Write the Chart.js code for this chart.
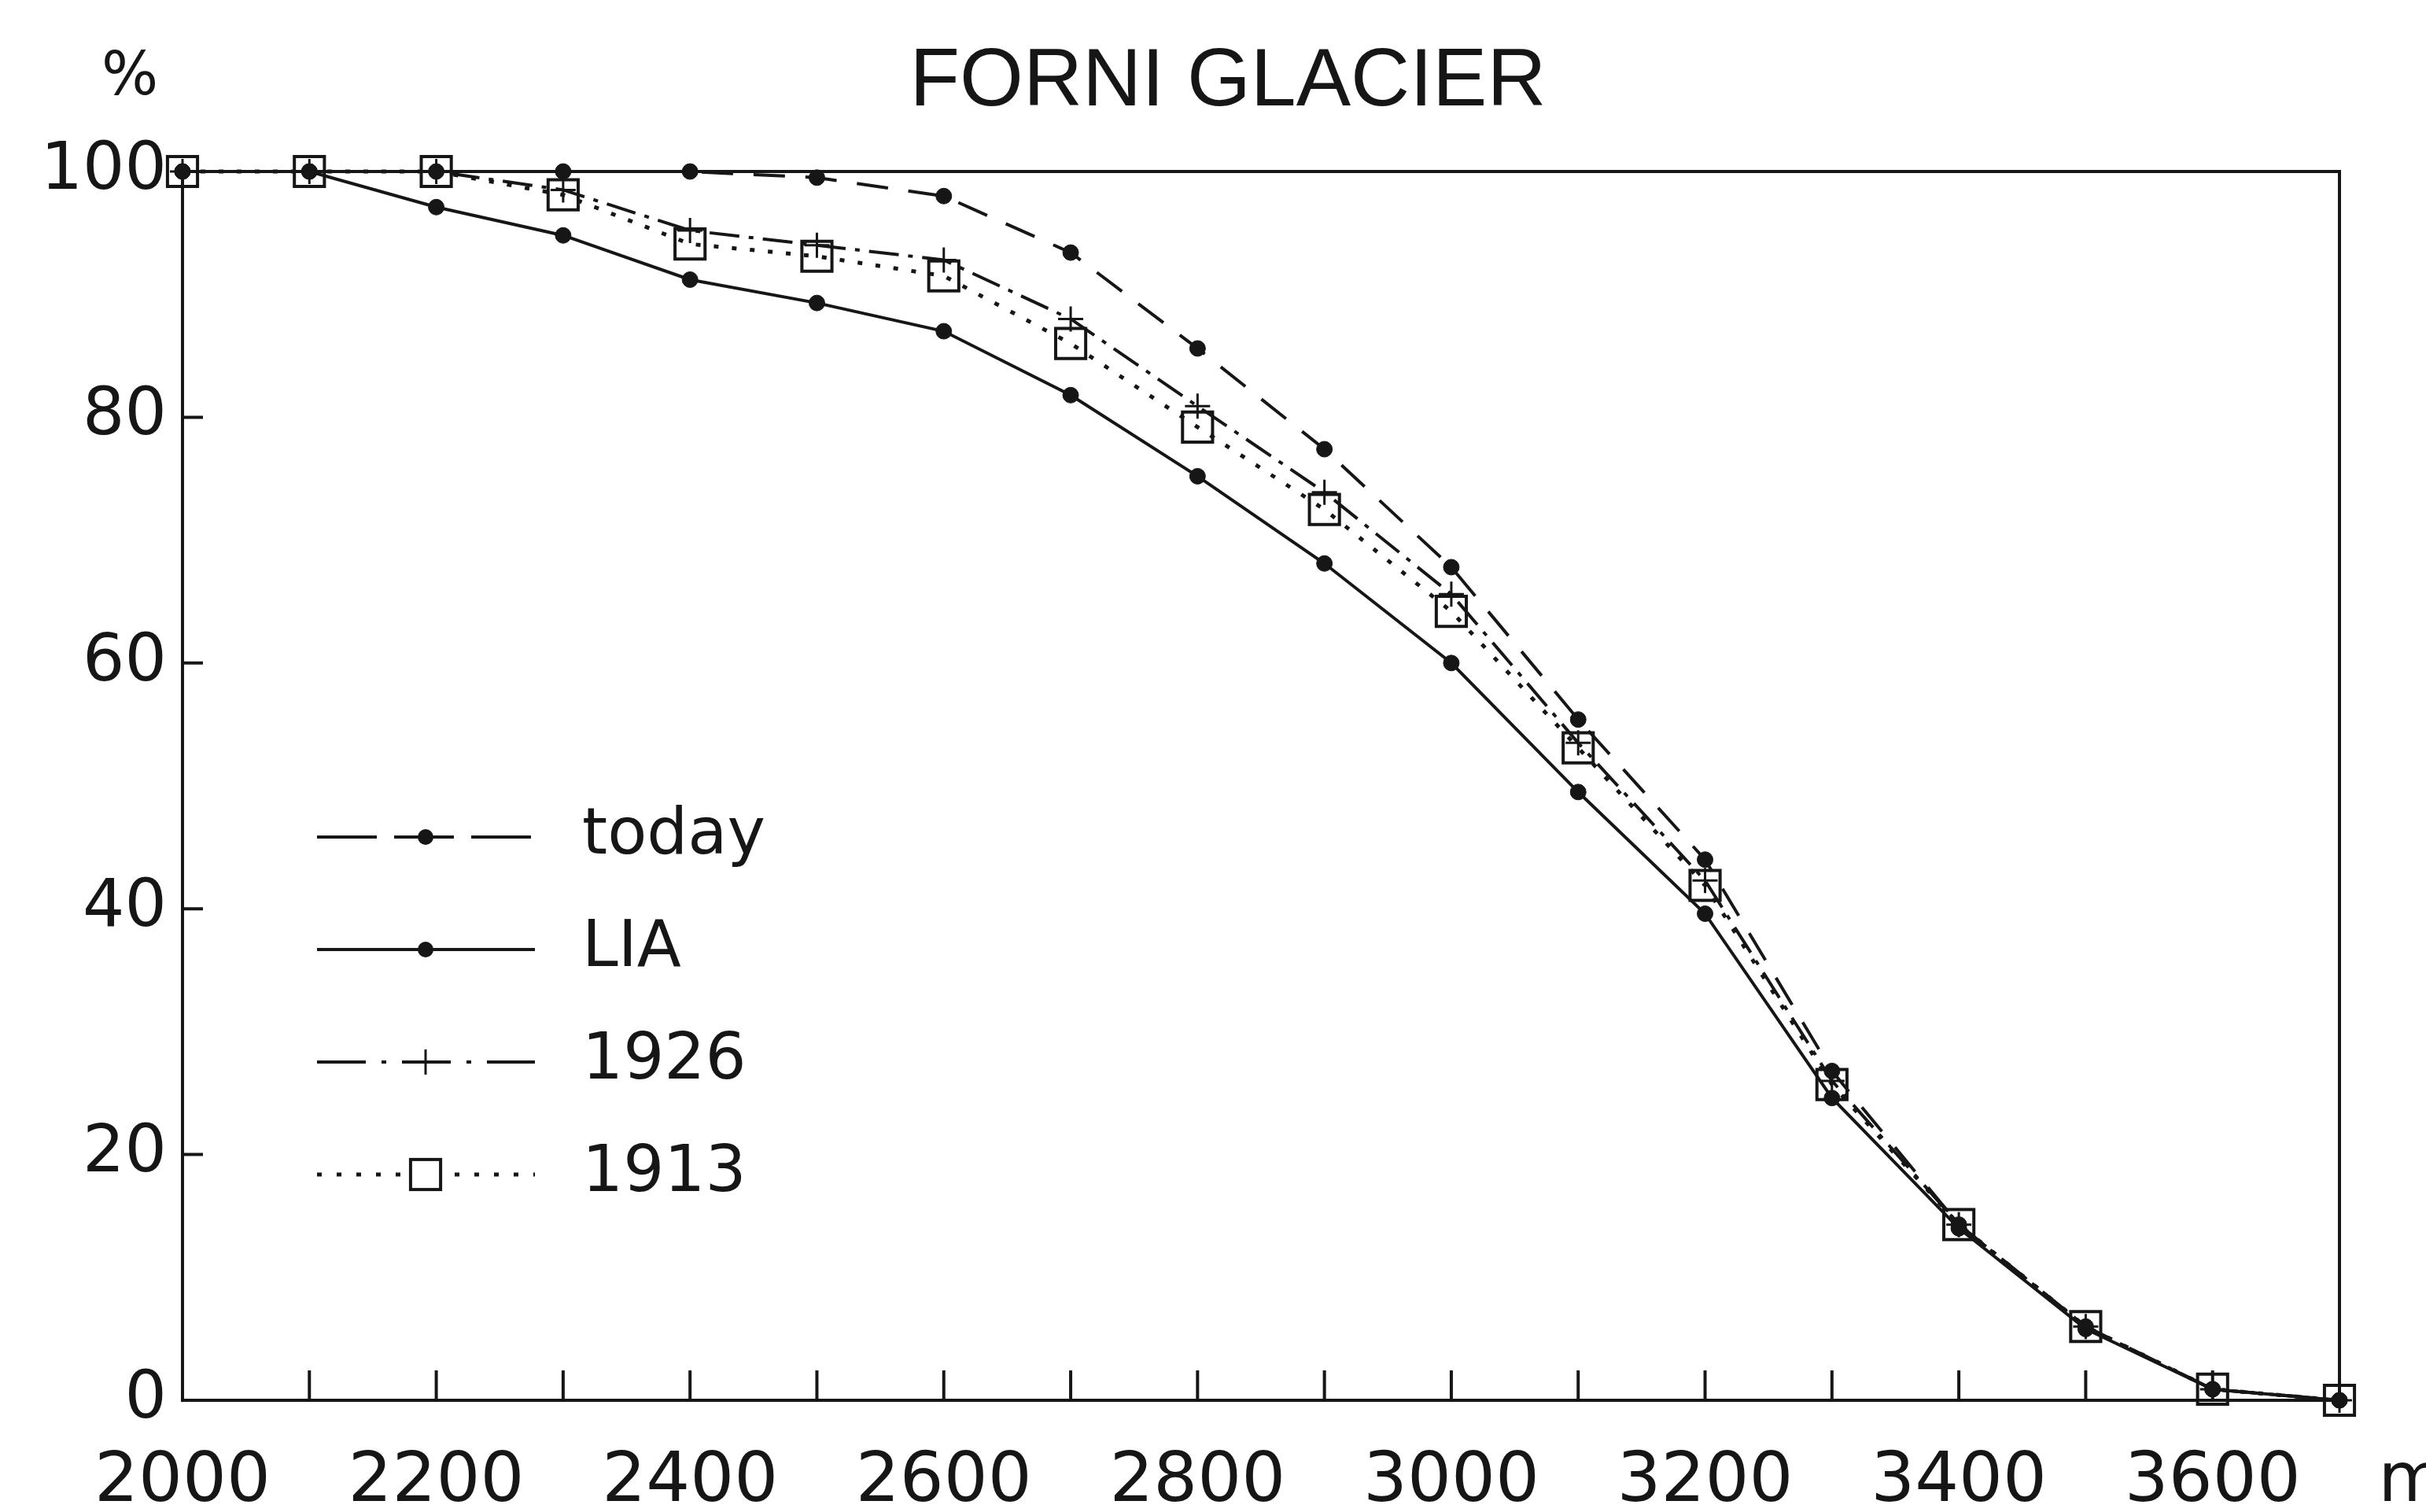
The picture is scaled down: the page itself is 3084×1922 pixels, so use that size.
<!DOCTYPE html>
<html lang="en">
<head>
<meta charset="UTF-8" />
<title>Forni Glacier</title>
<script src="https://cdn.jsdelivr.net/npm/chart.js"></script>
<style>
  html, body { margin: 0; padding: 0; background: #fff; }
  canvas { display: block; }
</style>
</head>
<body>
<canvas id="forni" width="3084" height="1922"></canvas>
<script>
  // elevation (m) vs % of glacier area lying above it
  const elevations = [2000, 2100, 2200, 2300, 2400, 2500, 2600, 2700, 2800, 2900, 3000, 3100, 3200, 3300, 3400, 3500, 3600, 3700];
  const today = [100, 100, 100, 100, 100, 99.5, 98, 93.4, 85.6, 77.4, 67.8, 55.4, 44, 26.8, 14.3, 6, 0.9, 0];
  const lia   = [100, 100, 97.1, 94.8, 91.2, 89.3, 87, 81.8, 75.2, 68.1, 60, 49.5, 39.6, 24.6, 14, 5.8, 0.9, 0];
  const y1926 = [100, 100, 100, 98.5, 95.2, 94, 92.8, 88, 80.9, 73.9, 65.6, 53.5, 42.3, 26, 14.3, 6, 0.9, 0];
  const y1913 = [100, 100, 100, 98.1, 94.1, 93.1, 91.5, 86, 79.2, 72.5, 64.2, 53.1, 41.9, 25.7, 14.3, 6, 0.9, 0];
  const seriesNames = ['today', 'LIA', '1926', '1913'];
  const xLabels = [2000, 2200, 2400, 2600, 2800, 3000, 3200, 3400, 3600];

  const ink = '#161616';
  const numFont = "'DejaVu Sans', sans-serif";

  function pts(vals) {
    return elevations.map((x, i) => ({ x: x, y: vals[i] }));
  }

  // the legend samples are drawn with longer dashes than the curves
  const legendDash = [[76, 22], [], [62, 20, 6, 20], [6, 19]];

  // title, box, inward tick marks, "%", "m" and the legend
  const frame = {
    id: 'frame',
    beforeDatasetsDraw(chart) {
      const { ctx, chartArea: a, scales: { x, y } } = chart;
      ctx.save();
      ctx.strokeStyle = ink;
      ctx.lineWidth = 4;
      ctx.strokeRect(a.left, a.top, a.right - a.left, a.bottom - a.top);
      ctx.beginPath();
      x.ticks.forEach(t => {
        if (t.value > x.min && t.value < x.max) {
          const px = x.getPixelForValue(t.value);
          ctx.moveTo(px, a.bottom);
          ctx.lineTo(px, a.bottom - 38);
        }
      });
      y.ticks.forEach(t => {
        if (t.value > y.min && t.value < y.max) {
          const py = y.getPixelForValue(t.value);
          ctx.moveTo(a.left, py);
          ctx.lineTo(a.left + 26, py);
        }
      });
      ctx.stroke();
      ctx.restore();
    },
    afterDraw(chart) {
      const { ctx, scales: { x } } = chart;
      ctx.save();
      ctx.fillStyle = ink;
      ctx.textAlign = 'center';
      ctx.textBaseline = 'alphabetic';
      ctx.font = "104px 'Liberation Sans', Arial, sans-serif";
      ctx.fillText('FORNI GLACIER', 1561, 134);

      ctx.font = "76px " + numFont;
      ctx.textBaseline = 'middle';
      ctx.fillText('%', 165, 100);
      ctx.font = "88px " + numFont;
      ctx.textBaseline = 'alphabetic';
      ctx.fillText('m', x.getPixelForValue(3700) + 92, 1908);

      // legend
      const x0 = 403, x1 = 680, xm = 541, top = 1064, step = 143;
      chart.data.datasets.forEach((ds, i) => {
        const yy = top + i * step;
        ctx.strokeStyle = ink;
        ctx.lineWidth = ds.borderWidth;
        ctx.setLineDash(legendDash[i]);
        ctx.beginPath();
        ctx.moveTo(x0, yy);
        ctx.lineTo(x1, yy);
        ctx.stroke();
        ctx.setLineDash([]);
        ctx.lineWidth = ds.pointBorderWidth;
        const r = ds.pointRadius;
        ctx.beginPath();
        if (ds.pointStyle === 'circle') {
          ctx.arc(xm, yy, r, 0, Math.PI * 2);
          ctx.fill();
        } else if (ds.pointStyle === 'cross') {
          ctx.moveTo(xm - r, yy); ctx.lineTo(xm + r, yy);
          ctx.moveTo(xm, yy - r); ctx.lineTo(xm, yy + r);
          ctx.stroke();
        } else {
          const s = r * Math.SQRT1_2;
          ctx.fillStyle = '#fff';
          ctx.fillRect(xm - s, yy - s, 2 * s, 2 * s);
          ctx.strokeRect(xm - s, yy - s, 2 * s, 2 * s);
          ctx.fillStyle = ink;
        }
        ctx.font = "82px " + numFont;
        ctx.textAlign = 'left';
        ctx.textBaseline = 'middle';
        ctx.fillText(seriesNames[i], 740, yy);
      });
      ctx.restore();
    }
  };

  new Chart(document.getElementById('forni'), {
    type: 'line',
    data: {
      datasets: [
        {
          label: seriesNames[0], data: pts(today), clip: false,
          borderColor: ink, borderWidth: 4, borderDash: [40, 26],
          pointStyle: 'circle', pointRadius: 10, pointBackgroundColor: ink,
          pointBorderColor: ink, pointBorderWidth: 1
        },
        {
          label: seriesNames[1], data: pts(lia), clip: false,
          borderColor: ink, borderWidth: 4,
          pointStyle: 'circle', pointRadius: 10, pointBackgroundColor: ink,
          pointBorderColor: ink, pointBorderWidth: 1
        },
        {
          label: seriesNames[2], data: pts(y1926), clip: false,
          borderColor: ink, borderWidth: 4, borderDash: [38, 12, 6, 12],
          pointStyle: 'cross', pointRadius: 16, pointBorderColor: ink,
          pointBorderWidth: 3
        },
        {
          label: seriesNames[3], data: pts(y1913), clip: false,
          borderColor: ink, borderWidth: 5, borderDash: [6, 17],
          pointStyle: 'rect', pointRadius: 27, pointBackgroundColor: 'rgba(0,0,0,0)',
          pointBorderColor: ink, pointBorderWidth: 4
        }
      ]
    },
    options: {
      responsive: false,
      animation: false,
      devicePixelRatio: 1,
      layout: { padding: { top: 218, right: 110, bottom: 0, left: 0 } },
      plugins: {
        legend: { display: false },
        tooltip: { enabled: false },
        title: { display: false }
      },
      scales: {
        x: {
          type: 'linear', min: 2000, max: 3700,
          grid: { display: false, drawTicks: false },
          border: { display: false },
          ticks: {
            stepSize: 100, autoSkip: false, maxRotation: 0, padding: 52,
            color: ink, font: { family: numFont, size: 88 },
            callback: v => xLabels.includes(v) ? String(v) : ''
          },
          afterFit: s => { s.height = 142; s.paddingLeft = 0; s.paddingRight = 0; }
        },
        y: {
          min: 0, max: 100,
          grid: { display: false, drawTicks: false },
          border: { display: false },
          ticks: {
            stepSize: 20, padding: 20,
            color: ink, font: { family: numFont, size: 84 }
          },
          afterFit: s => { s.width = 232; s.paddingTop = 0; s.paddingBottom = 0; }
        }
      }
    },
    plugins: [frame]
  });
</script>
</body>
</html>
